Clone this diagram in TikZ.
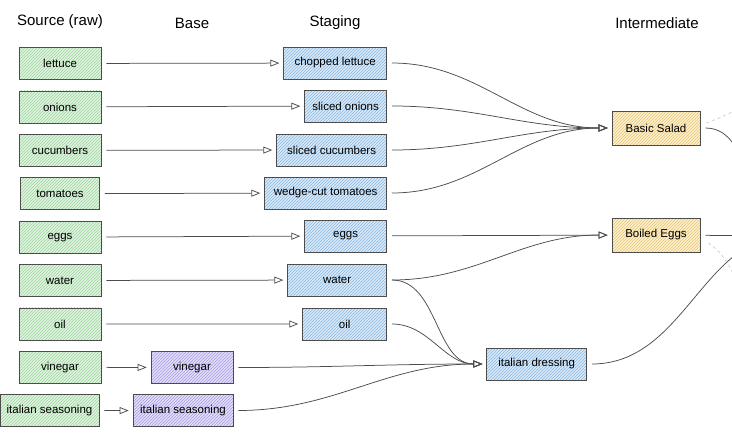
\documentclass[tikz,border=0pt]{standalone}
\usepackage{fontspec}
\setmainfont{Liberation Sans}
\usetikzlibrary{arrows.meta,positioning,patterns}
\definecolor{rawfill}{HTML}{E2F4E2}
\definecolor{rawhatch}{HTML}{9CD49C}
\definecolor{stgfill}{HTML}{DCEBF8}
\definecolor{stghatch}{HTML}{86B6E2}
\definecolor{basefill}{HTML}{E4E0F8}
\definecolor{basehatch}{HTML}{A49AE4}
\definecolor{intfill}{HTML}{FCF0CC}
\definecolor{inthatch}{HTML}{E6C478}
\tikzset{
  basic/.style   = {draw=black!70, line width=0.7pt, rectangle, minimum height=32pt,
                    inner sep=2pt, font=\fontsize{11.5}{13}\selectfont},
  source/.style  = {basic, minimum width=82pt, preaction={fill=rawfill},
                    pattern=north east lines, pattern color=rawhatch},
  basebox/.style = {basic, minimum width=82pt, preaction={fill=basefill},
                    pattern=north east lines, pattern color=basehatch},
  staging/.style = {basic, anchor=east, preaction={fill=stgfill},
                    pattern=north east lines, pattern color=stghatch},
  inter/.style   = {basic, minimum width=88pt, minimum height=34pt, preaction={fill=intfill},
                    pattern=north east lines, pattern color=inthatch},
  header/.style  = {font=\fontsize{15}{17}\selectfont},
  link/.style    = {->, draw=black!70, line width=0.75pt, shorten <=5pt, shorten >=4pt},
  faint/.style   = {draw=black!20, dashed, line width=0.7pt}
}

\begin{document}
\begin{tikzpicture}[x=1pt, y=-1pt, node distance=43.4pt,
  >={Triangle[open, length=9pt, width=7pt]}]
\useasboundingbox (0,0) rectangle (732,439);

% column titles
\node[header] (h-src) at (60,22) {Source (raw)};
\node[header] (h-base) at (192,23) {Base};
\node[header] (h-stg) at (335,23) {Staging};
\node[header] (h-int) at (657,23) {Intermediate};

% raw sources
\node[source] (lettuce) at (60,63.5) {lettuce};
\node[source, below of = lettuce] (onions) {onions};
\node[source, below of = onions] (cucumbers) {cucumbers};
\node[source, below of = cucumbers, minimum width=79pt] (tomatoes) {tomatoes};
\node[source, below of = tomatoes] (eggs) {eggs};
\node[source, below of = eggs] (water) {water};
\node[source, below of = water] (oil) {oil};
\node[source, below of = oil] (vinegar) {vinegar};
\node[source, below of = vinegar, minimum width=99pt, xshift=-10.5pt] (seasoning) {italian seasoning};

% base
\node[basebox] (b-vinegar) at (192,367.5) {vinegar};
\node[basebox, minimum width=100pt] (b-seasoning) at (183,410.5) {italian seasoning};

% staging
\node[staging, minimum width=103pt] (s-lettuce) at (387,63) {chopped lettuce};
\node[staging, minimum width=82pt] (s-onions) at (387,106) {sliced onions};
\node[staging, minimum width=110pt] (s-cucumbers) at (387,150) {sliced cucumbers};
\node[staging, minimum width=122pt] (s-tomatoes) at (387,193) {wedge-cut tomatoes};
\node[staging, minimum width=82pt] (s-eggs) at (387,236) {eggs};
\node[staging, minimum width=99pt] (s-water) at (387,280) {water};
\node[staging, minimum width=84pt] (s-oil) at (387,324) {oil};

% intermediate
\node[inter] (salad) at (656,128) {Basic Salad};
\node[inter] (boiled) at (656,235) {Boiled Eggs};
\node[staging, minimum width=100pt] (dressing) at (587,364) {italian dressing};

% off the right edge
\coordinate (next) at (800,236);
\coordinate (ghost-a) at (770,95);
\coordinate (ghost-b) at (748,320);

% raw -> staging / base
\foreach \item in {lettuce,onions,cucumbers,tomatoes,eggs,water,oil}
  \draw[link] (\item) -- (s-\item);
\draw[link] (vinegar) -- (b-vinegar);
\draw[link] (seasoning) -- (b-seasoning);

% staging -> intermediate
\foreach \item in {lettuce,onions,cucumbers,tomatoes}
  \draw[link] (s-\item) to[out=0, in=180] (salad);
\draw[link] (s-eggs) -- (boiled);
\draw[link] (s-water) to[out=0, in=180] (boiled);
\foreach \item in {s-water,s-oil,b-vinegar,b-seasoning}
  \draw[link] (\item) to[out=0, in=180] (dressing);

% intermediate -> next
\draw[link] (salad) to[out=0, in=180] (next);
\draw[link] (boiled) -- (next);
\draw[link] (dressing) to[out=0, in=180] (next);
\draw[faint] ([xshift=6pt, yshift=5pt]salad.east) to[out=20, in=200] (ghost-a);
\draw[faint] ([xshift=8pt, yshift=-8pt]boiled.east) to[out=-35, in=110] (ghost-b);
\end{tikzpicture}
\end{document}
